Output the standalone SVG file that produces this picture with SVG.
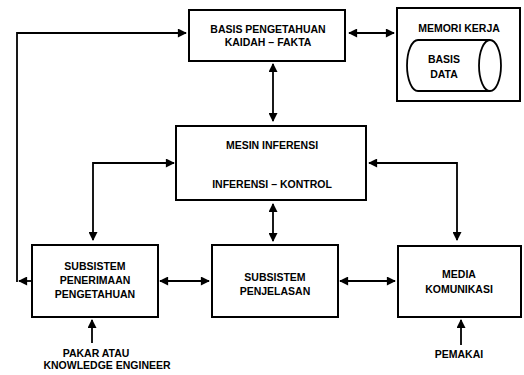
<svg xmlns="http://www.w3.org/2000/svg" width="524" height="375" viewBox="0 0 524 375">
<style>
.box{fill:#fff;stroke:#000;stroke-width:2}
.ln{fill:none;stroke:#000;stroke-width:1.8}
text{font-family:"Liberation Sans",Arial,sans-serif;font-size:10.5px;font-weight:bold;text-anchor:middle;fill:#000}
</style>
<defs>
<marker id="ah" viewBox="0 0 10 10" refX="9" refY="5" markerWidth="5.5" markerHeight="5" orient="auto-start-reverse" markerUnits="strokeWidth">
<path d="M0,0 L10,5 L0,10 z" fill="#000"/>
</marker>
</defs>
<g id="connectors">
<path class="ln" d="M349,33 H394" marker-start="url(#ah)" marker-end="url(#ah)"/>
<path class="ln" d="M273,64 V121" marker-start="url(#ah)" marker-end="url(#ah)"/>
<path class="ln" d="M93,240 V163 H174" marker-start="url(#ah)" marker-end="url(#ah)"/>
<path class="ln" d="M457,240 V163 H369" marker-start="url(#ah)" marker-end="url(#ah)"/>
<path class="ln" d="M273,204 V241" marker-start="url(#ah)" marker-end="url(#ah)"/>
<path class="ln" d="M160,281 H209" marker-start="url(#ah)" marker-end="url(#ah)"/>
<path class="ln" d="M340,281 H395" marker-start="url(#ah)" marker-end="url(#ah)"/>
<path class="ln" d="M32,281 H19" marker-end="url(#ah)"/>
<path class="ln" d="M17,282 V33 H186" marker-end="url(#ah)"/>
<path class="ln" d="M92,343 V320" marker-end="url(#ah)"/>
<path class="ln" d="M461,345 V320" marker-end="url(#ah)"/>
</g>
<g id="basis-pengetahuan">
<rect class="box" x="189" y="10" width="156" height="51"/>
<text x="268" y="33">BASIS PENGETAHUAN</text>
<text x="268" y="46">KAIDAH – FAKTA</text>
</g>
<g id="memori-kerja">
<rect class="box" x="397" y="8" width="123" height="93"/>
<text x="459" y="32">MEMORI KERJA</text>
<path class="ln" d="M490,40 H418 A11,25.5 0 0 0 418,91 H490" />
<ellipse class="ln" cx="490" cy="65.5" rx="11" ry="25.5"/>
<text x="444" y="63">BASIS</text>
<text x="444" y="78">DATA</text>
</g>
<g id="mesin-inferensi">
<rect class="box" x="176" y="126" width="190" height="74"/>
<text x="272" y="149">MESIN INFERENSI</text>
<text x="272" y="188">INFERENSI – KONTROL</text>
</g>
<g id="subsistem-penerimaan">
<rect class="box" x="32" y="245" width="126" height="72"/>
<text x="95" y="270">SUBSISTEM</text>
<text x="95" y="284">PENERIMAAN</text>
<text x="95" y="298">PENGETAHUAN</text>
</g>
<g id="subsistem-penjelasan">
<rect class="box" x="212" y="245" width="126" height="72"/>
<text x="275" y="281">SUBSISTEM</text>
<text x="275" y="295">PENJELASAN</text>
</g>
<g id="media-komunikasi">
<rect class="box" x="398" y="246" width="123" height="71"/>
<text x="459" y="278">MEDIA</text>
<text x="459" y="293">KOMUNIKASI</text>
</g>
<g id="pakar">
<text x="96" y="357">PAKAR ATAU</text>
<text x="107" y="369">KNOWLEDGE ENGINEER</text>
</g>
<g id="pemakai">
<text x="459" y="358">PEMAKAI</text>
</g>
</svg>
